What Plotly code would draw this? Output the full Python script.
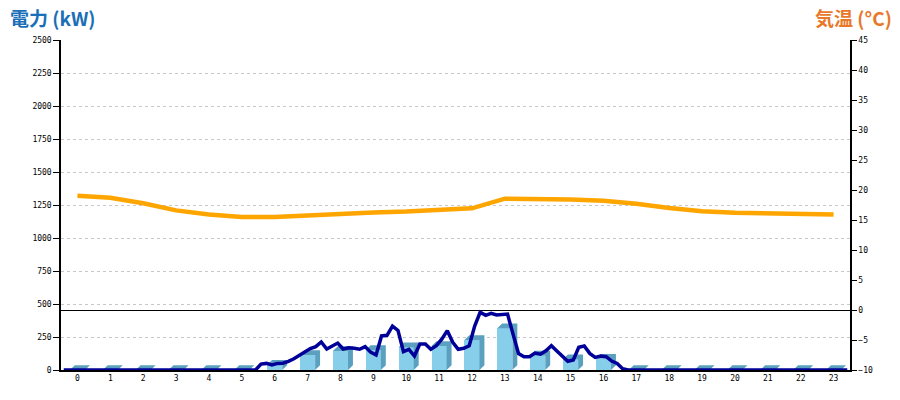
import plotly.graph_objects as go

hours = list(range(24))
hour_labels = [str(h) for h in hours]

# hourly energy bars (kW)
bar_values = [0, 0, 0, 0, 0, 0, 40, 114, 144, 152, 172, 182,
              227, 316, 110, 82, 85, 0, 0, 0, 0, 0, 0, 0]

# temperature (°C) hourly
temperature = [19.05, 18.7, 17.8, 16.6, 15.9, 15.5, 15.5, 15.8, 16.0, 16.25, 16.4, 16.7,
               16.95, 18.55, 18.55, 18.4, 18.2, 17.7, 17.0, 16.45, 16.2, 16.05, 16.05, 15.9]

# 10-minute power readings (kW), 144 samples, taken mid-interval
power_10min = (
    [0] * 35 +
    [0, 45, 50, 38, 50, 52, 65,            # k=35..41
     85, 110, 139, 162, 177, 212,          # 42..47
     159, 184, 204, 159, 169, 164,         # 48..53
     157, 177, 135, 114, 258, 263,         # 54..59
     333, 300, 139, 157, 106, 197,         # 60..65
     197, 157, 184, 234, 298, 210,         # 66..71
     157, 164, 184, 333, 437, 414,         # 72..77
     429, 417, 422, 424, 272, 125,         # 78..83
     101, 101, 128, 120, 146, 184,         # 84..89
     144, 106, 66, 76, 172, 182,           # 90..95
     126, 96, 106, 101, 68, 50,            # 96..101
     10] +                                 # 102
    [0] * 41
)
power_x = [(k + 0.5) / 6 - 0.5 for k in range(len(power_10min))]

# 3D bar geometry in data units
bar_w = 0.46
depth_x = 0.15
depth_y = 36

front_color = "#87CEEB"
dark_color = "#5BA1BF"

fig = go.Figure()

fig.add_trace(go.Bar(x=hours, y=bar_values, width=bar_w, marker=dict(color=front_color, line=dict(width=0)),
                     yaxis="y", showlegend=False, hoverinfo="skip"))

sx, sy = [], []
for h, v in zip(hours, bar_values):
    r = h + bar_w / 2
    l = h - bar_w / 2
    # side face
    sx += [r, r + depth_x, r + depth_x, r, r, None]
    sy += [0, depth_y, v + depth_y, v, 0, None]
    # top face
    sx += [l, r, r + depth_x, l + depth_x, l, None]
    sy += [v, v, v + depth_y, v + depth_y, v, None]
fig.add_trace(go.Scatter(x=sx, y=sy, mode="lines", fill="toself", fillcolor=dark_color,
                         line=dict(width=0, color=dark_color), showlegend=False, hoverinfo="skip"))

fig.add_trace(go.Scatter(x=power_x, y=power_10min, mode="lines",
                         line=dict(color="#000099", width=3.5), showlegend=False, hoverinfo="skip"))

fig.add_trace(go.Scatter(x=hours, y=temperature, mode="lines", yaxis="y2",
                         line=dict(color="#FFA500", width=4.5), showlegend=False, hoverinfo="skip"))

tick_font = dict(family="DejaVu Sans Mono", size=8, color="black")

fig.update_layout(
    width=900, height=400,
    margin=dict(l=61, r=50, t=40, b=30),
    paper_bgcolor="white", plot_bgcolor="white",
    bargap=0,
    xaxis=dict(range=[-0.5, 23.5], tickvals=hours, ticktext=hour_labels, showgrid=False,
               zeroline=False, showline=True, linecolor="black", linewidth=1.5,
               ticks="", tickfont=tick_font, fixedrange=True),
    yaxis=dict(range=[0, 2500], tickvals=list(range(0, 2501, 250)), showgrid=True,
               gridcolor="#c8c8c8", griddash="3px,3px", gridwidth=1, zeroline=False,
               showline=True, linecolor="black", linewidth=1.5, ticks="outside", ticklen=6,
               tickcolor="black", tickfont=tick_font),
    yaxis2=dict(range=[-10, 45], tickvals=list(range(-10, 46, 5)), overlaying="y", side="right",
                showgrid=False, zeroline=True, zerolinecolor="black", zerolinewidth=1,
                showline=True, linecolor="black", linewidth=1.5, ticks="outside", ticklen=5,
                tickcolor="black", tickfont=tick_font),
)

# title positions in pixel-like paper coords
pw = 900 - 61 - 50
ph = 400 - 40 - 30
fig.add_annotation(text="<b>電力 (kW)</b>", xref="paper", yref="paper",
                   x=(8 - 61) / pw, y=(370 - 17) / ph, xanchor="left", yanchor="middle",
                   showarrow=False, font=dict(family="Noto Sans CJK JP", size=19, color="#1a6fb8"))
fig.add_annotation(text="<b>気温 (°C)</b>", xref="paper", yref="paper",
                   x=(894 - 61) / pw, y=(370 - 17) / ph, xanchor="right", yanchor="middle",
                   showarrow=False, font=dict(family="Noto Sans CJK JP", size=19, color="#e8782a"))

fig.write_html("out.html", config={"displayModeBar": False},
               post_script="document.body.style.margin='0';document.body.style.overflow='hidden';")
